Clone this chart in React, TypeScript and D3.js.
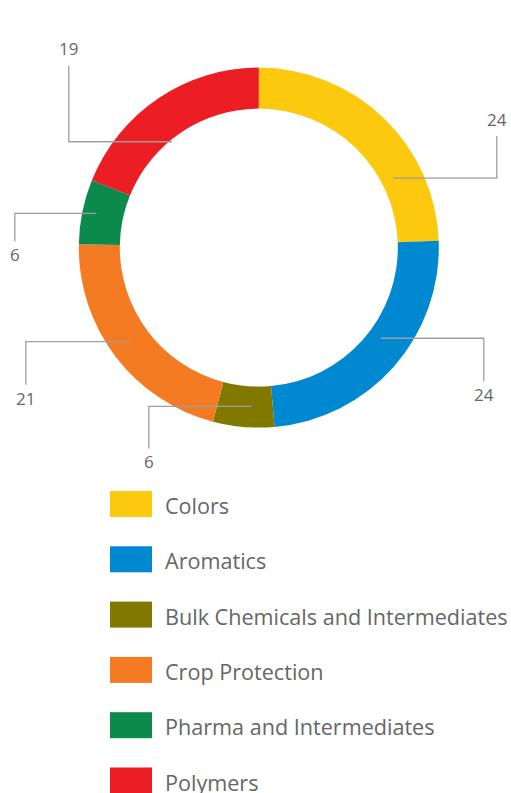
import React from "react";
import * as d3 from "d3";

const categories = [
  "Colors",
  "Aromatics",
  "Bulk Chemicals and Intermediates",
  "Crop Protection",
  "Pharma and Intermediates",
  "Polymers",
];
// shares (%); labels show rounded values
const values = [24.4, 24.2, 5.5, 21.2, 5.8, 18.9];
const colors = ["#FDC90F", "#0089D0", "#817800", "#F47B21", "#0B8A4B", "#ED1D24"];

// label leader layout: start angle (deg), start radius, elbow dx from center, vertical length
const labelLayout = [
  { ang: 62.6, r: 151, ex: 238, v: -42 },
  { ang: 126.6, r: 152, ex: 225, v: 43 },
  { ang: 182.6, r: 159, ex: -110, v: 42 },
  { ang: 234, r: 160, ex: -233, v: 43 },
  { ang: 281.9, r: 166, ex: -244, v: 28 },
  { ang: 320.6, r: 137, ex: -190, v: -76 },
];

const W = 511;
const H = 793;
const cx = 258.8;
const cy = 247.6;
const rOuter = 180;
const rInner = 139;

export default function App() {
  const pie = d3.pie<number>().sort(null).value((d) => d)(values);
  const arc = d3.arc<d3.PieArcDatum<number>>().innerRadius(rInner).outerRadius(rOuter);
  const font = "'Open Sans', 'Noto Sans', sans-serif";

  return (
    <svg width={W} height={H} style={{ position: "absolute", left: 0, top: 0 }}>
      <g transform={`translate(${cx},${cy})`}>
        {pie.map((p, i) => (
          <path key={i} d={arc(p) || ""} fill={colors[i]} />
        ))}
        {labelLayout.map((l, i) => {
          const a = (l.ang * Math.PI) / 180;
          const x0 = l.r * Math.sin(a);
          const y0 = -l.r * Math.cos(a);
          const y1 = y0 + l.v;
          const ty = l.v < 0 ? y1 - 10.5 : y1 + 20;
          return (
            <g key={i}>
              <polyline
                points={`${x0},${y0} ${l.ex},${y0} ${l.ex},${y1}`}
                fill="none"
                stroke="#9e9e9e"
                strokeWidth={1.3}
              />
              <text
                x={l.ex}
                y={ty}
                textAnchor="middle"
                fontFamily={font}
                fontSize={17}
                fill="#666"
              >
                {Math.round(values[i])}
              </text>
            </g>
          );
        })}
      </g>
      {categories.map((c, i) => {
        const y = 491 + i * 55.3;
        return (
          <g key={c}>
            <rect x={110} y={y} width={42} height={26} fill={colors[i]} />
            <text x={165} y={y + 23} fontFamily={font} fontSize={21.6} fill="#666">
              {c}
            </text>
          </g>
        );
      })}
    </svg>
  );
}
